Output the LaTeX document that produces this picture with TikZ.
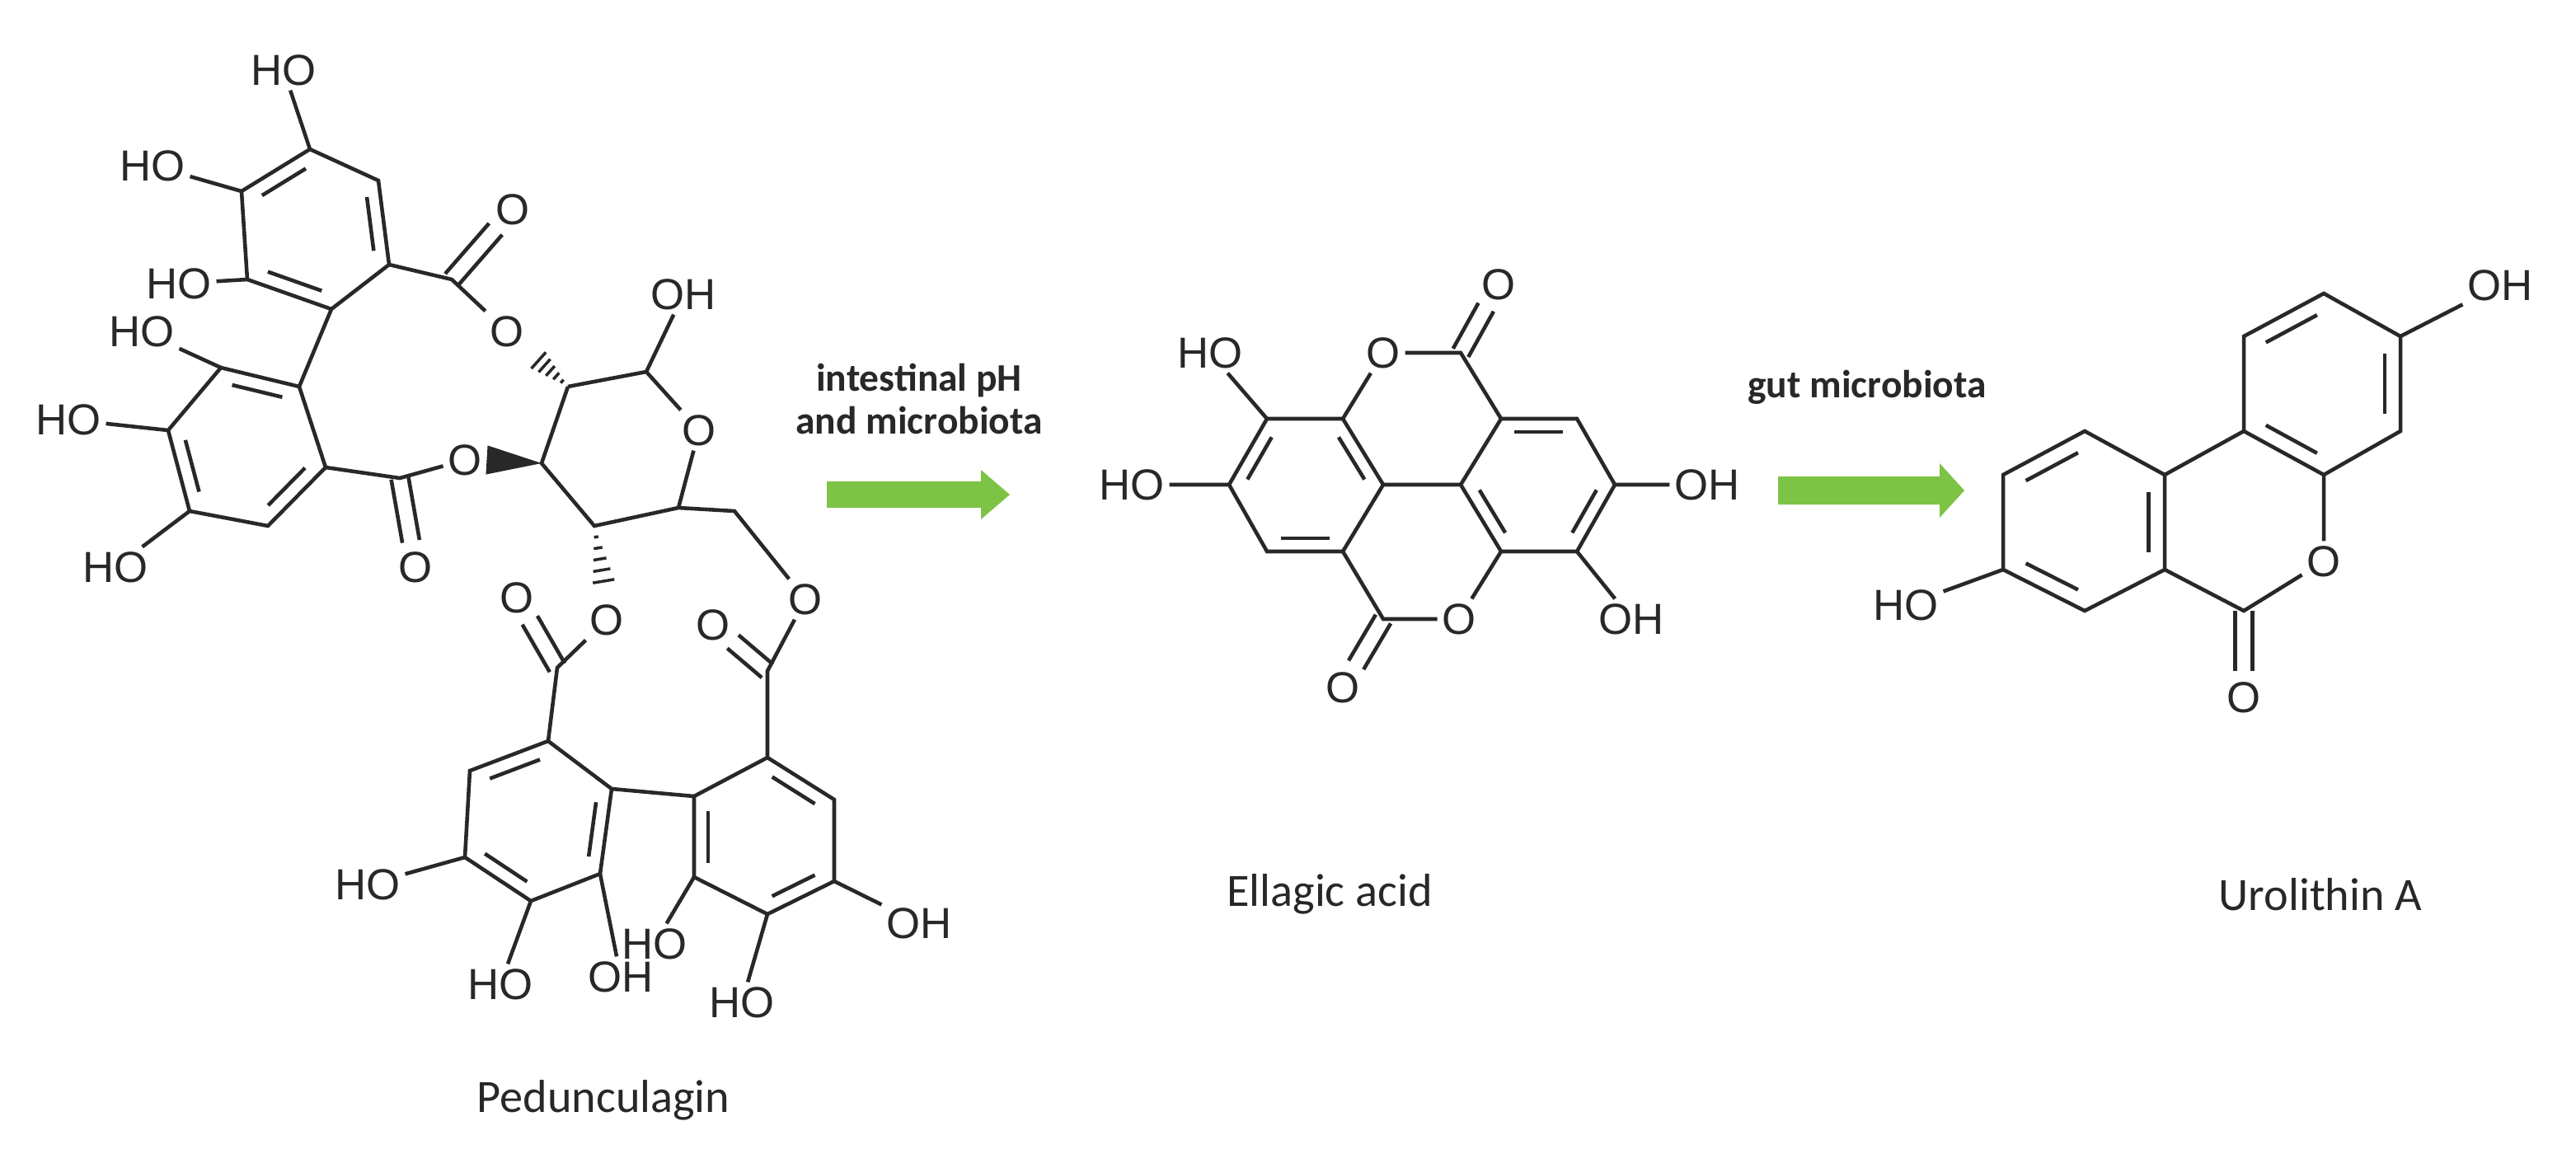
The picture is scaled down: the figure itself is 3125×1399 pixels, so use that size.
\documentclass[tikz,border=0pt]{standalone}
\usepackage{fontspec}
\setmainfont{Liberation Sans}
\newfontfamily\califont{Carlito}
\usetikzlibrary{calc}
\definecolor{grn}{RGB}{125,195,70}
\definecolor{ink}{RGB}{40,40,40}
\tikzset{
  bond/.style={draw=ink,line width=1.3pt},
  atom/.style={inner sep=1.5pt,font=\fontsize{15}{15}\selectfont,text=ink},
  cname/.style={font=\califont\fontsize{16}{16}\selectfont,text=ink},
  cond/.style={font=\califont\bfseries\fontsize{13.5}{15}\selectfont,text=ink,align=center},
  garrow/.style={fill=grn,draw=none}
}
\newcommand{\ib}[3]{\path ($(#1)!0.2!(#3)$) coordinate (pp) ($(#2)!0.2!(#3)$) coordinate (qq);
  \draw[bond] ($(pp)!0.1!(qq)$) -- ($(qq)!0.1!(pp)$);}
\newcommand{\db}[2]{\draw[bond,shorten >=9pt] ($(#1.center)!3pt!90:(#2.center)$) -- ($(#2.center)!3pt!-90:(#1.center)$);
  \draw[bond,shorten >=9pt] ($(#1.center)!3pt!-90:(#2.center)$) -- ($(#2.center)!3pt!90:(#1.center)$);}
\newcommand{\hb}[2]{\foreach \t in {0.15,0.3,...,0.9}{\draw[draw=ink,line width=1pt] ($(#1)!\t!(#2)!{\t*5pt}!90:(#2)$) -- ($(#1)!\t!(#2)!{\t*5pt}!-90:(#2)$);}}
\begin{document}
\begin{tikzpicture}[x=0.01cm,y=-0.01cm]
\useasboundingbox (0,0) rectangle (3125,1399);
% ---------- Pedunculagin ----------
\foreach \n/\x/\y in {a1/376/181,a2/459/219,a3/472/321,a4/402/375,a5/300/339,a6/293/232,
 b1/363/469,b2/395/567,b3/325/638,b4/230/620,b5/204/522,b6/268/446,
 ca/548/339,cb/485/580,s1/689/469,s2/784/451,s5/823/616,s4/721/638,s3/657/562,m/891/620,
 cc/676/810,cd/931/814,
 c1/665/899,c2/742/957,c3/728/1060,c4/644/1093,c5/564/1040,c6/570/935,
 d1/931/919,d2/1012/970,d3/1012/1069,d4/931/1109,d5/842/1064,d6/842/966,
 cA/384/278,cB/298/542,cC/653/997,cD/927/1016}
 \coordinate (\n) at (\x,\y);
\node[atom] (hoa1) at (344,85) {HO};
\node[atom] (hoa6) at (185,201) {HO};
\node[atom] (hoa5) at (217,344) {HO};
\node[atom] (hob6) at (172,402) {HO};
\node[atom] (hob5) at (83,509) {HO};
\node[atom] (hob4) at (140,688) {HO};
\node[atom] (oa) at (622,254) {O};
\node[atom] (ea) at (615,402) {O};
\node[atom] (ob) at (504,688) {O};
\node[atom] (eb) at (564,558) {O};
\node[atom] (oh2) at (829,357) {OH};
\node[atom] (ro) at (848,522) {O};
\node[atom] (ec) at (736,752) {O};
\node[atom] (ed) at (977,727) {O};
\node[atom] (occ) at (627,725) {O};
\node[atom] (odd) at (865,758) {O};
\node[atom] (hoc5) at (446,1073) {HO};
\node[atom] (hoc4) at (607,1194) {HO};
\node[atom] (hoc3) at (753,1185) {OH};
\node[atom] (hod5) at (794,1145) {HO};
\node[atom] (hod4) at (900,1216) {HO};
\node[atom] (hod3) at (1115,1120) {OH};
\draw[bond] (a1)--(a2)--(a3)--(a4)--(a5)--(a6)--cycle;
\ib{a1}{a6}{cA}\ib{a2}{a3}{cA}\ib{a4}{a5}{cA}
\draw[bond] (b1)--(b2)--(b3)--(b4)--(b5)--(b6)--cycle;
\ib{b1}{b6}{cB}\ib{b2}{b3}{cB}\ib{b4}{b5}{cB}
\draw[bond] (a4)--(b1) (a1)--(hoa1) (a6)--(hoa6) (a5)--(hoa5) (b6)--(hob6) (b5)--(hob5) (b4)--(hob4);
\draw[bond] (a3)--(ca)--(ea) (b2)--(cb)--(eb);
\db{ca}{oa}\db{cb}{ob}
\draw[bond] (s1)--(s2)--(ro)--(s5)--(s4)--(s3)--(s1) (s2)--(oh2) (s5)--(m)--(ed);
\hb{s1}{ea.south east}
\hb{s4}{ec.north}
\fill[ink] (s3) -- ($(eb.east)!5pt!90:(s3)$) -- ($(eb.east)!5pt!-90:(s3)$) -- cycle;
\draw[bond] (ec)--(cc)--(c1) (ed)--(cd)--(d1);
\db{cc}{occ}\db{cd}{odd}
\draw[bond] (c1)--(c2)--(c3)--(c4)--(c5)--(c6)--cycle;
\ib{c1}{c6}{cC}\ib{c2}{c3}{cC}\ib{c4}{c5}{cC}
\draw[bond] (d1)--(d2)--(d3)--(d4)--(d5)--(d6)--cycle;
\ib{d1}{d2}{cD}\ib{d3}{d4}{cD}\ib{d5}{d6}{cD}
\draw[bond] (c2)--(d6) (c5)--(hoc5) (c4)--(hoc4) (c3)--(hoc3) (d5)--(hod5) (d4)--(hod4) (d3)--(hod3);
\node[cname] (pname) at (732,1335) {Pedunculagin};
% ---------- arrow 1 ----------
\node[cond] (cond1) at (1115,484) {intestinal pH\\and microbiota};
\fill[garrow] (1003,584) -- (1190,584) -- (1190,570) -- (1225,600) -- (1190,630) -- (1190,616) -- (1003,616) -- cycle;
% ---------- Ellagic acid ----------
\foreach \n/\x/\y in {l1/1537/508,l2/1629/508,l3/1678/588,l4/1629/669,l5/1537/669,l6/1491/588,
 r1/1772/588,r2/1821/508,r3/1913/508,r4/1959/588,r5/1913/669,r6/1821/669,
 tc/1772/428,bc/1678/751,cL/1584/588,cR/1866/588}
 \coordinate (\n) at (\x,\y);
\node[atom] (to) at (1678,428) {O};
\node[atom] (to2) at (1818,345) {O};
\node[atom] (bo) at (1770,751) {O};
\node[atom] (bo2) at (1629,834) {O};
\node[atom] (hol1) at (1468,428) {HO};
\node[atom] (hol6) at (1373,588) {HO};
\node[atom] (ohr4) at (2071,588) {OH};
\node[atom] (ohr5) at (1979,751) {OH};
\draw[bond] (l1)--(l2)--(l3)--(l4)--(l5)--(l6)--cycle;
\ib{l1}{l6}{cL}\ib{l2}{l3}{cL}\ib{l4}{l5}{cL}
\draw[bond] (r1)--(r2)--(r3)--(r4)--(r5)--(r6)--cycle;
\ib{r2}{r3}{cR}\ib{r4}{r5}{cR}\ib{r1}{r6}{cR}
\draw[bond] (l3)--(r1) (l2)--(to)--(tc)--(r2) (l4)--(bc)--(bo)--(r6);
\db{tc}{to2}\db{bc}{bo2}
\draw[bond] (l1)--(hol1) (l6)--(hol6) (r4)--(ohr4) (r5)--(ohr5);
\node[cname] (ename) at (1613,1085) {Ellagic acid};
% ---------- arrow 2 ----------
\node[cond] (cond2) at (2265,470) {gut microbiota};
\fill[garrow] (2157,578) -- (2353,578) -- (2353,562) -- (2383,595) -- (2353,628) -- (2353,612) -- (2157,612) -- cycle;
% ---------- Urolithin A ----------
\foreach \n/\x/\y in {u1/2626/576,u2/2626/691,u3/2529/741,u4/2430/691,u5/2430/576,u6/2529/523,
 v1/2722/523,v2/2722/408,v3/2819/356,v4/2912/408,v5/2912/523,v6/2819/576,
 uc/2722/741,cU/2528/633,cV/2817/466}
 \coordinate (\n) at (\x,\y);
\node[atom] (uo) at (2819,681) {O};
\node[atom] (uoo) at (2722,846) {O};
\node[atom] (ohv4) at (3033,346) {OH};
\node[atom] (hou4) at (2312,734) {HO};
\draw[bond] (u1)--(u2)--(u3)--(u4)--(u5)--(u6)--cycle;
\ib{u1}{u2}{cU}\ib{u3}{u4}{cU}\ib{u5}{u6}{cU}
\draw[bond] (v1)--(v2)--(v3)--(v4)--(v5)--(v6)--cycle;
\ib{v2}{v3}{cV}\ib{v4}{v5}{cV}\ib{v1}{v6}{cV}
\draw[bond] (u1)--(v1) (v6)--(uo)--(uc)--(u2) (v4)--(ohv4) (u4)--(hou4);
\db{uc}{uoo}
\node[cname] (uname) at (2815,1085) {Urolithin A};
\end{tikzpicture}
\end{document}
